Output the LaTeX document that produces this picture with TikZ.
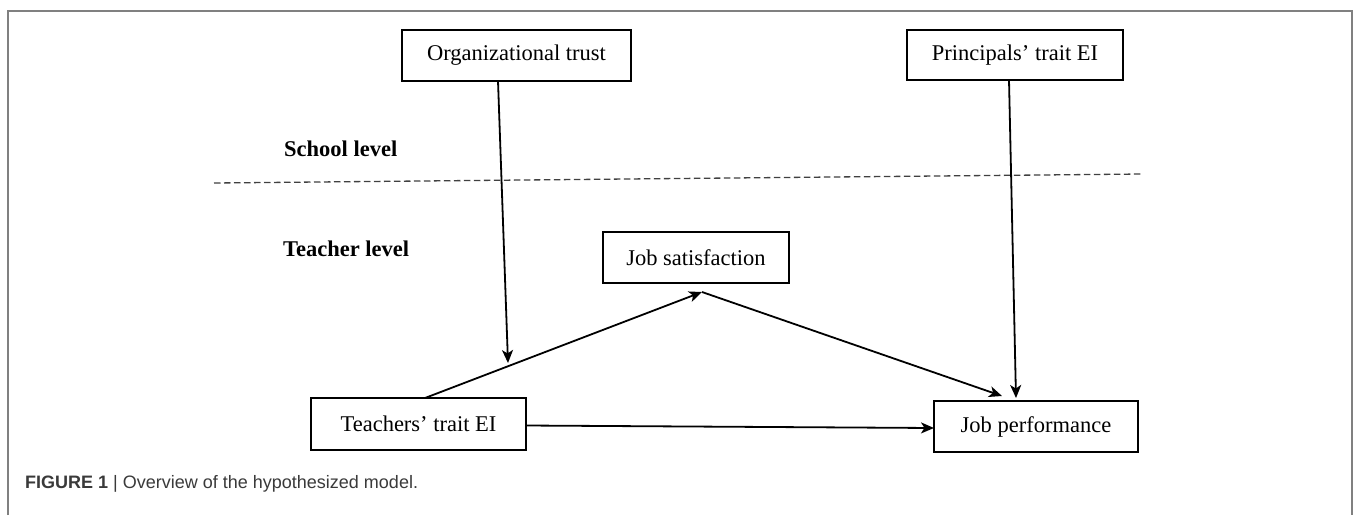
\documentclass[tikz,border=0pt]{standalone}
\usepackage{fontspec}
\setmainfont{Liberation Serif}
\newfontfamily\capfont{Liberation Sans}
\usetikzlibrary{arrows.meta}
\definecolor{framegray}{HTML}{808080}
\definecolor{capgray}{HTML}{3A3A3A}
\begin{document}
\begin{tikzpicture}[x=1pt,y=-1pt,
  box/.style={draw=black, line width=1.9pt, inner sep=0pt, font=\fontsize{22.5}{27}\selectfont},
  lvl/.style={anchor=base west, inner sep=0pt, font=\fontsize{22.5}{27}\selectfont\bfseries},
  arr/.style={line width=1.8pt, -{Stealth[length=13pt,width=11pt,inset=3.5pt]}},
  sep/.style={draw=black!75, line width=1.3pt, dash pattern=on 6.5pt off 3.5pt}
]
\useasboundingbox (0,0) rectangle (1357,515);
\fill[white] (0,0) rectangle (1357,515);
\draw[framegray, line width=2pt] (8,515) -- (8,11) -- (1352,11) -- (1352,515);

\node[box, minimum width=229pt, minimum height=51pt] (org) at (516.5,55.5) {Organizational trust};
\node[box, minimum width=216pt, minimum height=50pt] (pri) at (1015,55) {Principals' trait EI};
\node[box, minimum width=186pt, minimum height=51pt] (jsat) at (696,257.5) {Job satisfaction};
\node[box, minimum width=215pt, minimum height=52pt] (tei) at (418.5,424) {Teachers' trait EI};
\node[box, minimum width=204pt, minimum height=51pt] (jperf) at (1036,426.5) {Job performance};

\node[lvl] (school) at (284,156) {School level};
\node[lvl] (teacher) at (283,256) {Teacher level};

\coordinate (dl) at (214,183);
\coordinate (dr) at (1143,174);
\draw[sep] (dl) -- (dr);

\coordinate (orgout) at (498,81);
\coordinate (orgtip) at (508,363);
\coordinate (teiout) at (425,398);
\coordinate (jstip) at (702,292);
\coordinate (jptip1) at (1002,396);
\coordinate (priout) at (1009,80);
\coordinate (jptip2) at (1016,398);
\coordinate (teieast) at (526,425.5);
\coordinate (jpwest) at (934,428);

\draw[arr] (orgout) -- (orgtip);
\draw[arr] (teiout) -- (jstip);
\draw[arr] (jstip) -- (jptip1);
\draw[arr] (priout) -- (jptip2);
\draw[arr] (teieast) -- (jpwest);

\node[anchor=base west, inner sep=0pt, text=capgray, font=\capfont\fontsize{18}{22}\selectfont] (cap) at (25,488) {\textbf{FIGURE 1} | Overview of the hypothesized model.};
\end{tikzpicture}
\end{document}
